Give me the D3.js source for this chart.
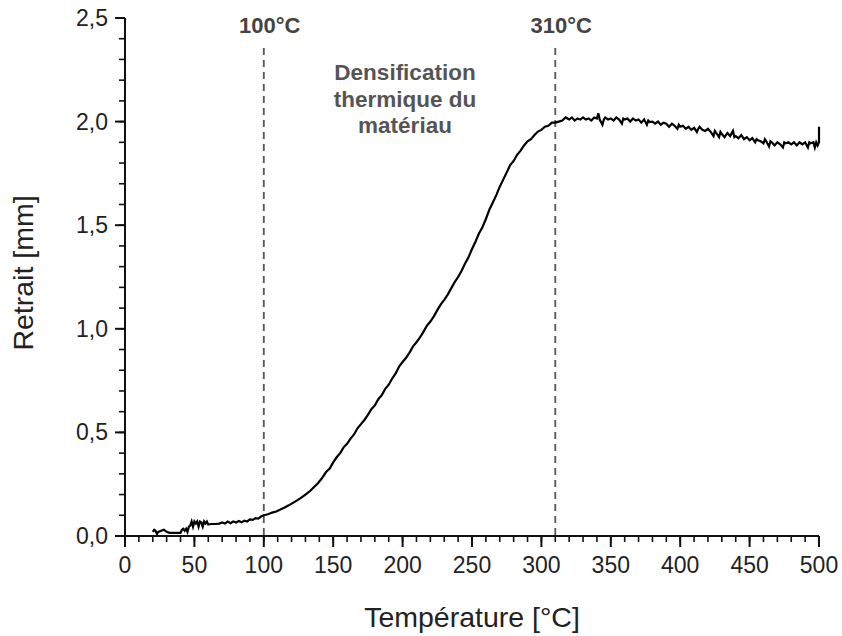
<!DOCTYPE html>
<html><head><meta charset="utf-8">
<script src="https://cdn.jsdelivr.net/npm/d3@7"></script>
<style>body{margin:0;background:#fff}svg{display:block}</style>
</head><body><svg id="c" width="842" height="636"></svg>
<script>
const xTicks = [0,50,100,150,200,250,300,350,400,450,500];
const yTicks = [0,0.5,1.0,1.5,2.0,2.5];
const markers = [100,310];
const markerLabels = ["100°C","310°C"];
const annotation = ["Densification","thermique du","matériau"];
const xTitle = "Température [°C]";
const yTitle = "Retrait [mm]";
const temps = [20,21,22,23,24,26,28,30,32,36,40,41,42,43,44,45,46,47,48,49,50,51,52,53,54,55,56,57,58,59,60,62,65,68,70,72,74,76,78,80,82,84,86,88,90,92,94,96,98,100,103,106,109,112,115,118,121,124,127,130,133,136,139,142,145,147.5,150,152.5,155,157.5,160,162.5,165,167.5,170,172.5,175,177.5,180,182.5,185,187.5,190,192.5,195,197.5,200,202.5,205,207.5,210,212.5,215,217.5,220,222.5,225,227.5,230,232.5,235,237.5,240,242.5,245,247.5,250,252.5,255,257.5,260,262.5,265,267.5,270,272.5,275,277.5,280,282.5,285,287.5,290,292.5,295,297.5,300,302.5,305,307.5,310,312.5,315,317.5,320,322,324,326,328,330,332,334,336,338,340,341,342,344,345,346,348,350,352,354,356,358,359,360,362,364,366,368,370,372,374,376,377,378,380,382,384,386,388,390,392,394,396,398,399,400,402,404,406,408,410,412,413,414,416,418,420,422,424,425,426,428,429,430,432,434,436,438,439,440,442,444,446,448,450,452,454,455,456,458,460,461,462,464,465,466,468,470,472,474,475,476,478,480,482,484,486,488,490,492,493,494,496,497,498,499,500,500];
const retrait = [0.02,0.03,0.025,0.01,0.02,0.025,0.03,0.02,0.015,0.015,0.015,0.03,0.035,0.025,0.035,0.02,0.045,0.05,0.07,0.045,0.07,0.06,0.07,0.045,0.07,0.065,0.045,0.07,0.06,0.07,0.055,0.058,0.058,0.06,0.065,0.06,0.07,0.062,0.07,0.065,0.072,0.066,0.074,0.07,0.08,0.078,0.086,0.084,0.094,0.1,0.105,0.113,0.118,0.128,0.138,0.148,0.16,0.172,0.185,0.2,0.215,0.235,0.255,0.28,0.31,0.325,0.355,0.38,0.4,0.428,0.445,0.47,0.49,0.52,0.54,0.56,0.585,0.612,0.63,0.66,0.68,0.71,0.73,0.76,0.785,0.818,0.84,0.86,0.885,0.915,0.935,0.958,0.985,1.015,1.035,1.06,1.09,1.118,1.14,1.165,1.195,1.225,1.25,1.28,1.315,1.345,1.385,1.42,1.46,1.49,1.53,1.575,1.61,1.645,1.686,1.72,1.755,1.79,1.81,1.84,1.86,1.885,1.905,1.915,1.935,1.952,1.96,1.975,1.98,1.995,1.995,2.0,2.005,2.02,2.01,2.02,2.005,2.015,2.01,2.02,2.01,2.015,2.005,2.02,2.015,2.04,2.01,1.985,2.01,2.02,2.01,2.015,2.005,2.02,2.01,1.99,2.015,2.01,2.015,2.0,2.015,2.005,2.01,1.995,2.01,1.985,2.005,1.998,2.0,1.99,2.0,1.985,1.995,1.99,1.975,1.99,1.98,1.965,1.985,1.975,1.98,1.965,1.975,1.96,1.97,1.95,1.965,1.975,1.96,1.955,1.965,1.95,1.93,1.955,1.945,1.925,1.95,1.94,1.925,1.945,1.93,1.955,1.925,1.93,1.92,1.935,1.915,1.925,1.91,1.92,1.9,1.915,1.91,1.905,1.895,1.915,1.905,1.88,1.905,1.9,1.885,1.9,1.89,1.875,1.9,1.895,1.9,1.89,1.9,1.885,1.9,1.89,1.9,1.875,1.9,1.895,1.9,1.875,1.9,1.885,1.9,1.975];

const svg = d3.select("#c");
const x = d3.scaleLinear().domain([0,500]).range([125,819]);
const y = d3.scaleLinear().domain([0,2.5]).range([536,18]);
const fmt = v => d3.format(".1f")(v).replace(".", ",");
const font = "'Liberation Sans', Arial, sans-serif";

const xMinor = d3.range(0,501,10);
const yMinor = d3.range(0,26,1).map(d=>d/10);

// marker lines (behind)
svg.selectAll(".mk").data(markers).join("line")
  .attr("x1",d=>x(d)).attr("x2",d=>x(d)).attr("y1",48).attr("y2",536)
  .attr("stroke","#555").attr("stroke-width",1.8).attr("stroke-dasharray","7,5");
svg.selectAll(".mkl").data(markers).join("text")
  .attr("x",d=>x(d)+6).attr("y",33).attr("text-anchor","middle")
  .attr("font-family",font).attr("font-weight","bold").attr("font-size",22).attr("fill","#444")
  .text((d,i)=>markerLabels[i]);

svg.selectAll(".ann").data(annotation).join("text")
  .attr("x",405).attr("y",(d,i)=>80+i*26.5).attr("text-anchor","middle")
  .attr("font-family",font).attr("font-weight","bold").attr("font-size",22.5).attr("fill","#555").text(d=>d);

// curve
const pts = temps.map((t,i)=>[t,retrait[i]]);
svg.append("path").datum(pts)
  .attr("d",d3.line().x(d=>x(d[0])).y(d=>y(d[1])))
  .attr("fill","none").attr("stroke","#000").attr("stroke-width",2.2).attr("stroke-linejoin","miter");

const gx = svg.append("g").attr("transform","translate(0,536)");
gx.append("line").attr("x1",x(0)).attr("x2",x(500)).attr("stroke","#111").attr("stroke-width",2);
gx.selectAll(".mn").data(xMinor).join("line").attr("x1",d=>x(d)).attr("x2",d=>x(d)).attr("y1",0).attr("y2",6).attr("stroke","#111").attr("stroke-width",1.6);
gx.selectAll(".mj").data(xTicks).join("line").attr("x1",d=>x(d)).attr("x2",d=>x(d)).attr("y1",0).attr("y2",11).attr("stroke","#111").attr("stroke-width",2);
gx.selectAll("text").data(xTicks).join("text").attr("x",d=>x(d)).attr("y",37)
  .attr("text-anchor","middle").attr("font-family",font).attr("font-size",23).attr("fill","#222").text(d=>d);

const gy = svg.append("g").attr("transform","translate(125,0)");
gy.append("line").attr("y1",y(0)).attr("y2",y(2.5)).attr("stroke","#111").attr("stroke-width",2);
gy.selectAll(".mn").data(yMinor).join("line").attr("y1",d=>y(d)).attr("y2",d=>y(d)).attr("x1",0).attr("x2",-6).attr("stroke","#111").attr("stroke-width",1.6);
gy.selectAll(".mj").data(yTicks).join("line").attr("y1",d=>y(d)).attr("y2",d=>y(d)).attr("x1",0).attr("x2",-10).attr("stroke","#111").attr("stroke-width",2);
gy.selectAll("text").data(yTicks).join("text").attr("x",-17).attr("y",d=>y(d)+8)
  .attr("text-anchor","end").attr("font-family",font).attr("font-size",23).attr("fill","#222").text(fmt);

svg.append("text").attr("x",472).attr("y",627).attr("text-anchor","middle")
  .attr("font-family",font).attr("font-size",28.5).attr("fill","#222").text(xTitle);
svg.append("text").attr("transform","translate(33,273) rotate(-90)").attr("text-anchor","middle")
  .attr("font-family",font).attr("font-size",28.5).attr("fill","#222").text(yTitle);
</script></body></html>
